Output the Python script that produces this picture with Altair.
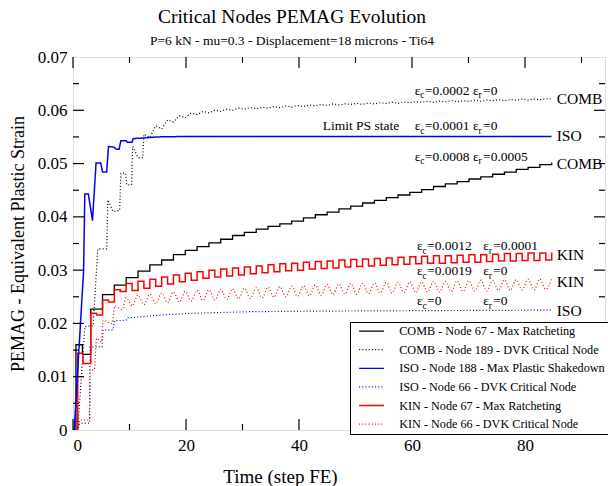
import altair as alt
import pandas as pd

W, H = 532, 373
FONT = "Liberation Serif"

series_names = [
    "COMB - Node 67 - Max Ratcheting",
    "COMB - Node 189 - DVK Critical Node",
    "ISO - Node 188 - Max Plastic Shakedown",
    "ISO - Node 66 - DVK Critical Node",
    "KIN - Node 67 - Max Ratcheting",
    "KIN - Node 66 - DVK Critical Node",
]
series_colors = ["#000000", "#000000", "#0000ff", "#0000ff", "#ff0000", "#ff0000"]
series_dash = [[1, 0], [1, 2.2], [1, 0], [1, 2.2], [1, 0], [1, 2.2]]

# time of one FE step on the x axis
DT = 1.046

# COMB - Node 67 (staircase)
comb67_t = [0, 0.52, 1.67] + [round(DT * s, 2) for s in range(3, 82, 2)]
comb67_v = [0, 0.0160, 0.0142,
            0.0227, 0.0254, 0.0272, 0.0286, 0.0298, 0.0310, 0.0319, 0.0329, 0.0337, 0.0344,
            0.0351, 0.0358, 0.0365, 0.0371, 0.0377, 0.0382, 0.0387, 0.0392, 0.0398, 0.0404,
            0.0409, 0.0415, 0.0420, 0.0426, 0.0431, 0.0436, 0.0441, 0.0446, 0.0451, 0.0457,
            0.0462, 0.0466, 0.0471, 0.0475, 0.0480, 0.0484, 0.0489, 0.0493, 0.0498, 0.0502]

# COMB - Node 189
comb189_t = [0, 0.84, 2.09, 3.56, 4.39, 5.96, 6.17, 7.11, 8.26, 8.47, 9.31, 9.52, 10.36, 10.56,
             11.51, 12.34] + [round(DT * s, 2) for s in range(12, 82)]
comb189_v = [0, 0, 0.0194, 0.0196, 0.0340, 0.0340, 0.0432, 0.0410, 0.0412, 0.0482, 0.0482, 0.0460,
             0.0460, 0.0532, 0.0511, 0.0511,
             0.0555, 0.0549, 0.0571, 0.0565, 0.0582, 0.0578, 0.0590, 0.0586, 0.0595, 0.0592,
             0.0598, 0.0595, 0.0600, 0.0598, 0.0602, 0.0600, 0.0604, 0.0602, 0.0605, 0.0603,
             0.0606, 0.0604, 0.0607, 0.0605, 0.0608, 0.0606, 0.0609, 0.0607, 0.0610, 0.0608,
             0.0611, 0.0609, 0.0612, 0.0610, 0.0612, 0.0611, 0.0613, 0.0611, 0.0614, 0.0612,
             0.0614, 0.0613, 0.0615, 0.0613, 0.0616, 0.0614, 0.0616, 0.0615, 0.0617, 0.0615,
             0.0617, 0.0616, 0.0618, 0.0616, 0.0618, 0.0617, 0.0619, 0.0617, 0.0619, 0.0618,
             0.0620, 0.0618, 0.0620, 0.0619, 0.0621, 0.0619, 0.0621, 0.0620, 0.0622, 0.0621]

# ISO - Node 188
iso188_t = [0, 0.21, 1.88, 2.09, 2.72, 3.45, 4.08, 4.92, 5.23, 5.96, 6.28, 7.22, 7.64, 8.16, 8.47,
            9.41, 9.62, 10.46, 10.67, 12.55, 14.85, 20.9, 41.8, 62.8, 84.7]
iso188_v = [0, 0, 0.0300, 0.0443, 0.0443, 0.0393, 0.0501, 0.0501, 0.0484, 0.0484, 0.0532, 0.0531,
            0.0527, 0.0527, 0.0543, 0.0543, 0.0540, 0.0540, 0.0547, 0.0548, 0.0550, 0.0551,
            0.0551, 0.0551, 0.0551]

# ISO - Node 66
iso66_t = [0, 0.63, 1.26, 2.93, 3.03, 5.13, 5.33, 7.11, 7.32, 9.41, 9.52, 11.5, 15.7, 20.9, 31.4,
           41.8, 62.8, 84.7]
iso66_v = [0, 0, 0.0013, 0.0013, 0.0156, 0.0156, 0.0188, 0.0188, 0.0205, 0.0206, 0.0210, 0.0212,
           0.0216, 0.0219, 0.0222, 0.0223, 0.0224, 0.0225]

# KIN - Node 67 (square wave)
kin67_t = [0, 0.84, 1.78, 3.14, 4.18, 5.23, 6.28, 7.32, 8.37] + [round(DT * s, 2) for s in range(9, 82)]
kin67_v = [0, 0.0144, 0.0125, 0.0219, 0.0216, 0.0244, 0.0240, 0.0263, 0.0260,
           0.0275, 0.0262, 0.0279, 0.0266, 0.0283, 0.0270, 0.0287, 0.0274, 0.0291, 0.0278,
           0.0294, 0.0281, 0.0297, 0.0285, 0.0300, 0.0287, 0.0302, 0.0289, 0.0304, 0.0291,
           0.0306, 0.0293, 0.0308, 0.0295, 0.0310, 0.0297, 0.0312, 0.0299, 0.0313, 0.0300,
           0.0315, 0.0302, 0.0316, 0.0303, 0.0317, 0.0304, 0.0319, 0.0306, 0.0320, 0.0307,
           0.0321, 0.0308, 0.0322, 0.0309, 0.0323, 0.0310, 0.0324, 0.0311, 0.0325, 0.0312,
           0.0326, 0.0313, 0.0327, 0.0313, 0.0327, 0.0314, 0.0328, 0.0315, 0.0329, 0.0315,
           0.0329, 0.0316, 0.0330, 0.0317, 0.0331, 0.0317, 0.0331, 0.0318, 0.0332, 0.0318,
           0.0332, 0.0319, 0.0333]

# KIN - Node 66 (wavy)
kin66_t = [0, 0.84, 1.26, 2.93, 3.03, 3.77, 4.18, 5.02, 5.33, 6.9, 7.43, 8.68, 9.41] + \
          [round(DT * s, 2) for s in range(10, 82)]
kin66_v = [0, 0, 0.0019, 0.0019, 0.0113, 0.0113, 0.0172, 0.0165, 0.0206, 0.0200, 0.0233, 0.0226, 0.0248,
           0.0233, 0.0253, 0.0235, 0.0255, 0.0237, 0.0257, 0.0239, 0.0259, 0.0240, 0.0260,
           0.0242, 0.0262, 0.0243, 0.0263, 0.0244, 0.0264, 0.0245, 0.0265, 0.0246, 0.0266,
           0.0247, 0.0267, 0.0248, 0.0268, 0.0249, 0.0269, 0.0250, 0.0270, 0.0251, 0.0271,
           0.0252, 0.0272, 0.0253, 0.0273, 0.0254, 0.0274, 0.0255, 0.0275, 0.0255, 0.0275,
           0.0256, 0.0276, 0.0257, 0.0277, 0.0257, 0.0277, 0.0258, 0.0278, 0.0258, 0.0278,
           0.0259, 0.0279, 0.0259, 0.0279, 0.0260, 0.0280, 0.0260, 0.0280, 0.0261, 0.0281,
           0.0261, 0.0281, 0.0262, 0.0282, 0.0262, 0.0282, 0.0263, 0.0283, 0.0263, 0.0283,
           0.0264, 0.0284]

# annotations
eps_t = [60.5, 70.8, 60.5, 70.8, 60.5, 70.8, 60.9, 72.6, 60.9, 72.6, 60.9, 72.6]
eps_v = [0.0637, 0.0637, 0.0570, 0.0570, 0.0513, 0.0513, 0.0345, 0.0345, 0.0298, 0.0298, 0.0242, 0.0242]
eps_sub = ["c", "r"] * 6
eps_rest = ["=0.0002", "=0", "=0.0001", "=0", "=0.0008", "=0.0005",
            "=0.0012", "=0.0001", "=0.0019", "=0", "=0", "=0"]
note_t = [44.2]
note_v = [0.0570]
note_text = ["Limit PS state"]
end_t = [85.6, 85.6, 85.6, 85.6, 85.6, 85.6]
end_v = [0.0622, 0.0551, 0.0500, 0.0328, 0.0277, 0.0224]
end_text = ["COMB", "ISO", "COMB", "KIN", "KIN", "ISO"]

x_major = [0, 20, 40, 60, 80]
x_minor = [10, 30, 50, 70, 90]
y_major = [0.01, 0.02, 0.03, 0.04, 0.05, 0.06]
y_minor = [0.005, 0.015, 0.025, 0.035, 0.045, 0.055, 0.065]
y_labels = [0, 0.01, 0.02, 0.03, 0.04, 0.05, 0.06, 0.07]

X = alt.X("t:Q", scale=alt.Scale(domain=[0, 94.16], nice=False, zero=False),
          axis=alt.Axis(values=x_major, title="Time (step FE)", grid=False, domain=False, ticks=False,
                        labelFont=FONT, labelFontSize=17, labelColor="black", labelPadding=7,
                        titleFont=FONT, titleFontSize=19, titleFontWeight="normal", titleColor="black",
                        titleX=207, titleY=46, titleBaseline="middle"))
Y = alt.Y("v:Q", scale=alt.Scale(domain=[0, 0.07], nice=False, zero=False),
          axis=alt.Axis(values=y_labels, title="PEMAG - Equivalent Plastic Strain", grid=False,
                        domain=False, ticks=False, labelFont=FONT, labelFontSize=17, labelColor="black",
                        labelPadding=6,
                        labelExpr="datum.value == 0 ? '0' : format(datum.value, '.2f')",
                        titleFont=FONT, titleFontSize=18, titleFontWeight="normal", titleColor="black",
                        titleX=-55, titleY=H / 2, titleAngle=-90, titleBaseline="middle"))

leg = alt.Legend(title=None, orient="none", legendX=277, legendY=265, fillColor="white",
                 strokeColor="black", padding=3, labelFont=FONT, labelFontSize=12.2, labelColor="black",
                 labelLimit=400, symbolType="M-2.5,0H2.5", symbolSize=100, symbolStrokeWidth=1.3,
                 symbolOffset=12.5, rowPadding=5.6, labelOffset=21.5)
C = alt.Color("series:N", scale=alt.Scale(domain=series_names, range=series_colors), legend=leg)
D = alt.StrokeDash("series:N", scale=alt.Scale(domain=series_names, range=series_dash), legend=leg)


def line(name, ts, vs, interp, sw):
    df = pd.DataFrame({"t": ts, "v": vs, "series": name})
    return alt.Chart(df).mark_line(interpolate=interp, strokeWidth=sw, clip=True).encode(
        x=X, y=Y, color=C, strokeDash=D, order="t:Q")


layers = [
    line(series_names[1], comb189_t, comb189_v, "linear", 1.2),
    line(series_names[3], iso66_t, iso66_v, "linear", 1.2),
    line(series_names[5], kin66_t, kin66_v, "monotone", 1.2),
    line(series_names[0], comb67_t, comb67_v, "step-after", 1.3),
    line(series_names[4], kin67_t, kin67_v, "step-after", 1.5),
    line(series_names[2], iso188_t, iso188_v, "linear", 1.5),
]

# inward ticks
xt_maj = pd.DataFrame({"t": x_major})
xt_min = pd.DataFrame({"t": x_minor})
yt_maj = pd.DataFrame({"v": y_major})
yt_min = pd.DataFrame({"v": y_minor})
tick_style = dict(color="black", strokeWidth=1.2)
ticks = [
    alt.Chart(xt_maj).mark_rule(**tick_style).encode(x=X, y=alt.value(H), y2=alt.value(H - 11)),
    alt.Chart(xt_maj).mark_rule(**tick_style).encode(x=X, y=alt.value(0), y2=alt.value(11)),
    alt.Chart(xt_min).mark_rule(**tick_style).encode(x=X, y=alt.value(H), y2=alt.value(H - 6)),
    alt.Chart(xt_min).mark_rule(**tick_style).encode(x=X, y=alt.value(0), y2=alt.value(6)),
    alt.Chart(yt_maj).mark_rule(**tick_style).encode(y=Y, x=alt.value(0), x2=alt.value(11)),
    alt.Chart(yt_maj).mark_rule(**tick_style).encode(y=Y, x=alt.value(W), x2=alt.value(W - 11)),
    alt.Chart(yt_min).mark_rule(**tick_style).encode(y=Y, x=alt.value(0), x2=alt.value(6)),
    alt.Chart(yt_min).mark_rule(**tick_style).encode(y=Y, x=alt.value(W), x2=alt.value(W - 6)),
]

eps_df = pd.DataFrame({"t": eps_t, "v": eps_v, "sub": eps_sub, "rest": eps_rest})
texts = [
    alt.Chart(eps_df).mark_text(text="ε", font=FONT, fontSize=13.5, align="left", baseline="middle",
                                color="black").encode(x=X, y=Y),
    alt.Chart(eps_df).mark_text(font=FONT, fontSize=9.5, align="left", baseline="middle", dx=5.5, dy=4.5,
                                color="black").encode(x=X, y=Y, text="sub:N"),
    alt.Chart(eps_df).mark_text(font=FONT, fontSize=13.5, align="left", baseline="middle", dx=10,
                                color="black").encode(x=X, y=Y, text="rest:N"),
    alt.Chart(pd.DataFrame({"t": note_t, "v": note_v, "txt": note_text})).mark_text(
        font=FONT, fontSize=13.5, align="left", baseline="middle", color="black").encode(
        x=X, y=Y, text="txt:N"),
    alt.Chart(pd.DataFrame({"t": end_t, "v": end_v, "txt": end_text})).mark_text(
        font=FONT, fontSize=15.5, align="left", baseline="middle", color="black").encode(
        x=X, y=Y, text="txt:N"),
]

chart = alt.layer(*layers, *ticks, *texts).properties(
    width=W, height=H,
    autosize=alt.AutoSizeParams(type="none"),
    padding={"left": 73, "top": 57, "right": 3, "bottom": 56},
    title=alt.TitleParams(
        text="Critical Nodes PEMAG Evolution",
        subtitle="P=6 kN - mu=0.3 - Displacement=18 microns - Ti64",
        font=FONT, fontSize=19.5, fontWeight="normal", color="black",
        subtitleFont=FONT, subtitleFontSize=13.5, subtitleColor="black",
        anchor="middle", offset=0, subtitlePadding=6, dx=-47),
).configure_view(stroke="black", strokeWidth=1.3).configure(background="white")

chart.save("out.html", embed_options={"renderer": "svg", "actions": False})
